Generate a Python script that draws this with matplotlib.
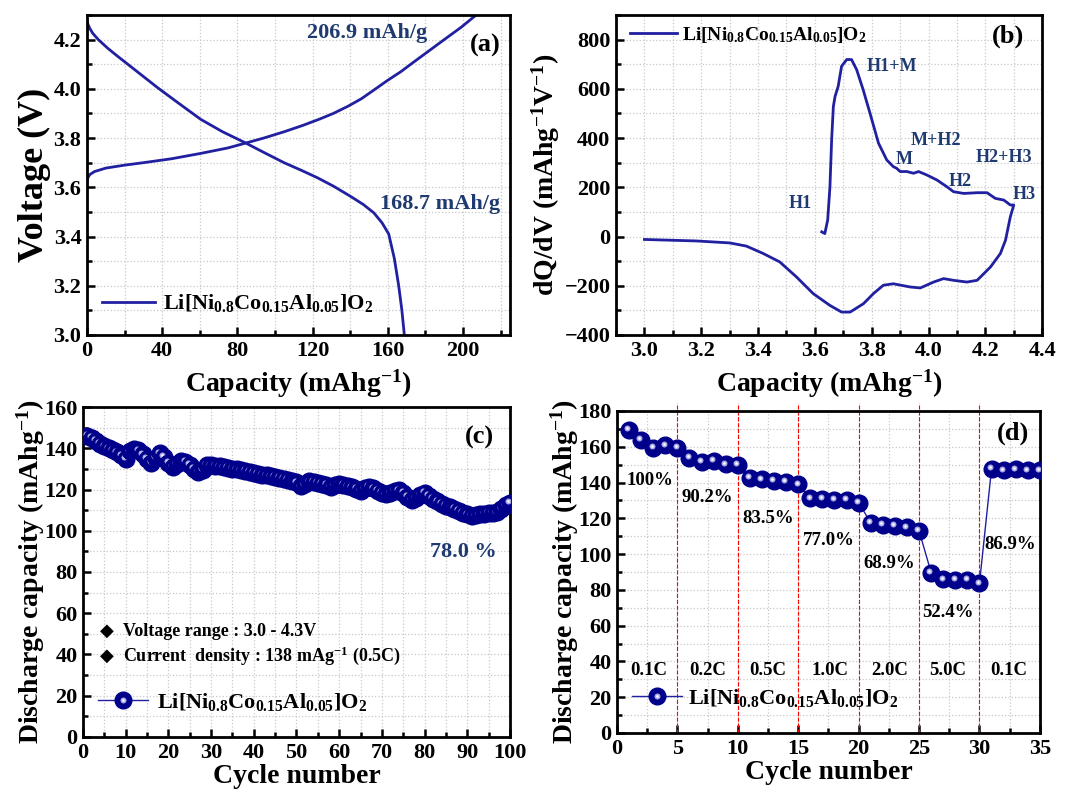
import matplotlib
matplotlib.use("Agg")
import matplotlib.pyplot as plt
from matplotlib.lines import Line2D
from matplotlib.ticker import MultipleLocator
from matplotlib.transforms import offset_copy

plt.rcParams['font.family'] = ['Liberation Serif', 'DejaVu Sans']
plt.rcParams['font.weight'] = 'bold'
plt.rcParams['axes.labelweight'] = 'bold'
plt.rcParams['mathtext.fontset'] = 'custom'
plt.rcParams['mathtext.rm'] = 'Liberation Serif:bold'
plt.rcParams['mathtext.bf'] = 'Liberation Serif:bold'
plt.rcParams['mathtext.it'] = 'Liberation Serif:bold:italic'

NCA = r'Li[Ni$_{0.8}$Co$_{0.15}$Al$_{0.05}$]O$_{2}$'

# (a) charge / discharge profiles
cap_chg = [0, 0.5, 1.5, 4, 10, 20, 30, 45, 60, 75, 85, 94, 105, 115, 124, 131, 139,
           146, 153.5, 160, 167, 174, 182, 190, 199, 207]
v_chg = [3.62, 3.64, 3.652, 3.664, 3.678, 3.69, 3.70, 3.716, 3.737, 3.76, 3.781,
         3.80, 3.826, 3.852, 3.878, 3.90, 3.93, 3.96, 4.0, 4.035, 4.07, 4.11, 4.155,
         4.20, 4.25, 4.30]
cap_dis = [0, 0.5, 1.5, 3, 6, 11, 16, 25, 37.5, 49, 60.5, 72, 84.4, 95, 104.8, 114,
           122.5, 131, 140, 147, 152.6, 157, 160.5, 163.5, 165.8, 167.5, 168.8]
v_dis = [4.277, 4.262, 4.245, 4.226, 4.2, 4.165, 4.134, 4.08, 4.005, 3.94, 3.876,
         3.826, 3.78, 3.738, 3.70, 3.669, 3.639, 3.605, 3.564, 3.53, 3.496, 3.455,
         3.41, 3.31, 3.2, 3.1, 3.0]

# (b) dQ/dV
v_b = [3.624, 3.635, 3.645, 3.653, 3.659, 3.665, 3.671, 3.682, 3.694, 3.712, 3.729,
       3.747, 3.770, 3.794, 3.824, 3.853, 3.876, 3.888, 3.900, 3.924, 3.947, 3.965,
       3.994, 4.029, 4.065, 4.088, 4.124, 4.171, 4.206, 4.235, 4.265, 4.288, 4.300,
       4.288, 4.271, 4.253, 4.218, 4.171, 4.135, 4.088, 4.053, 4.018, 3.971, 3.935,
       3.876, 3.841, 3.806, 3.771, 3.724, 3.694, 3.653, 3.594, 3.535, 3.476, 3.418,
       3.359, 3.300, 3.182, 3.000]
dqdv_b = [19, 12, 67, 202, 393, 528, 569, 610, 692, 719, 719, 678, 596, 501, 379, 311,
          284, 277, 264, 264, 257, 264, 250, 230, 202, 182, 175, 178, 178, 155, 148,
          128, 128, 80, -15, -69, -124, -178, -185, -178, -171, -185, -209, -205,
          -192, -198, -232, -273, -307, -307, -280, -232, -164, -103, -69, -39, -26,
          -18, -12]
b_labels = ['H1', 'H1+M', 'M', 'M+H2', 'H2', 'H2+H3', 'H3']
b_label_x = [3.547, 3.87, 3.913, 4.026, 4.111, 4.266, 4.337]
b_label_y = [133, 691, 314, 389, 222, 323, 170]

# (c) cycling at 0.5C
cycles_c = list(range(1, 101))
cap_c = [146, 145, 143.5, 142, 141, 140, 139, 138, 136.5, 135,
         138.5, 139.5, 139, 137, 135, 133, 135.5, 137.5, 136, 133,
         131, 132.5, 134, 133.5, 132, 130, 128.5, 129.5, 132, 131.8,
         131.5, 131.2, 130.8, 130.5, 130.1, 129.7, 129.3, 128.9, 128.5, 128,
         127.6, 127.2, 126.8, 126.4, 126, 125.6, 125.2, 124.8, 124.3, 123.5,
         121.5, 122.5, 124, 123.7, 123.3, 122.8, 122.2, 121.2, 122, 122.6,
         122.2, 121.6, 121, 120.2, 119.4, 120.5, 121.2, 120.5, 119.5, 118.5,
         117.7, 118.5, 119.5, 119.6, 118.5, 116.5, 115, 116, 117.5, 118.3,
         117, 115.5, 114.3, 113.2, 112.2, 111.3, 110.5, 109.6, 108.8, 108,
         107.3, 107.5, 108, 108.3, 108.7, 108.8, 109, 110.5, 112.3, 113.6]

# (d) rate capability
cycles_d = list(range(1, 36))
cap_d = [169.6, 164, 159.5, 160.8, 159.5, 153.8, 151.5, 152, 150.2, 149.7,
         142.6, 141.7, 141, 140.4, 138.9, 131.1, 130.7, 130.5, 130.2, 128.7,
         117.5, 116.2, 115.7, 114.9, 113, 89.6, 85.9, 85.5, 85.5, 83.7,
         147.8, 146.9, 147.3, 146.9, 146.9]
rate_bounds = [5, 10, 15, 20, 25, 30]
rates = ['0.1C', '0.2C', '0.5C', '1.0C', '2.0C', '5.0C', '0.1C']
rate_x = [2.6, 7.5, 12.5, 17.6, 22.6, 27.4, 32.4]
retention = ['100%', '90.2%', '83.5%', '77.0%', '68.9%', '52.4%', '86.9%']
ret_x = [2.7, 7.5, 12.5, 17.5, 22.5, 27.4, 32.5]
ret_y = [141, 131.5, 120, 107.5, 94.5, 67.3, 105.6]

LINE = '#2020a0'
NAVY = '#00008b'
HILITE = '#a9a9e6'
ANNO = '#1e3a70'
MS = 12

fig = plt.figure(figsize=(10.68, 7.9), dpi=100)


def style(ax, xmaj, xmin, ymaj, ymin):
    ax.xaxis.set_major_locator(MultipleLocator(xmaj))
    ax.xaxis.set_minor_locator(MultipleLocator(xmin))
    ax.yaxis.set_major_locator(MultipleLocator(ymaj))
    ax.yaxis.set_minor_locator(MultipleLocator(ymin))
    ax.grid(True, which='both', ls=':', color='#c8c8c8', lw=0.9)
    ax.set_axisbelow(True)
    ax.tick_params(which='both', direction='in', width=1.8, labelsize=16,
                   top=False, right=False, pad=4)
    ax.tick_params(which='major', length=6)
    ax.tick_params(which='minor', length=3.5)
    for s in ax.spines.values():
        s.set_linewidth(2)


def spheres(ax, x, y, ms=MS):
    hl = offset_copy(ax.transData, fig=fig, x=-1.2, y=1.2, units='points')
    ax.plot(x, y, '-', color=LINE, lw=1, zorder=2)
    for xi, yi in zip(x, y):
        ax.plot(xi, yi, 'o', ms=ms, mfc=NAVY, mec=NAVY, zorder=3)
        ax.plot(xi, yi, 'o', ms=ms * 0.36, mfc=HILITE, mec='none', zorder=3,
                transform=hl)
        ax.plot(xi, yi, 'o', ms=ms * 0.16, mfc='white', mec='none', zorder=3,
                transform=hl)


def sphere_handle(ms=MS):
    h1 = Line2D([], [], color=LINE, lw=1, marker='o', ms=ms, mfc=NAVY, mec=NAVY)
    h2 = Line2D([], [], ls='none', marker='o', ms=ms * 0.36, mfc=HILITE, mec='none')
    h3 = Line2D([], [], ls='none', marker='o', ms=ms * 0.16, mfc='white', mec='none')
    return (h1, h2, h3)


# ---- (a) ----
ax = fig.add_axes([0.0815, 0.576, 0.396, 0.405])
ax.plot(cap_chg, v_chg, color=LINE, lw=2, label=NCA)
ax.plot(cap_dis, v_dis, color=LINE, lw=2)
ax.set_xlim(0, 225)
ax.set_ylim(3.0, 4.3)
style(ax, 40, 20, 0.2, 0.1)
ax.yaxis.set_major_formatter(plt.FormatStrFormatter('%.1f'))
ax.set_xlabel(r'Capacity (mAhg$^{-1}$)', fontsize=20, labelpad=5)
ax.set_ylabel('Voltage (V)', fontsize=26, labelpad=2)
ax.text(148.8, 4.226, '206.9 mAh/g', color=ANNO, fontsize=16, ha='center', va='center')
ax.text(188, 3.534, '168.7 mAh/g', color=ANNO, fontsize=16, ha='center', va='center')
ax.text(211.7, 4.178, '(a)', fontsize=19, ha='center', va='center')
ax.legend(loc='center left', bbox_to_anchor=(0.035, 0.099), frameon=False,
          fontsize=16, handlelength=2.4, handletextpad=0.35, borderpad=0,
          borderaxespad=0)

# ---- (b) ----
ax = fig.add_axes([0.5768, 0.576, 0.399, 0.405])
ax.plot(v_b, dqdv_b, color=LINE, lw=2, label=NCA)
ax.set_xlim(2.9, 4.4)
ax.set_ylim(-400, 900)
style(ax, 0.2, 0.1, 200, 100)
ax.xaxis.set_major_formatter(plt.FormatStrFormatter('%.1f'))
ax.set_xlabel(r'Capacity (mAhg$^{-1}$)', fontsize=20, labelpad=5)
ax.set_ylabel(r'dQ/dV (mAhg$^{-1}$V$^{-1}$)', fontsize=20, labelpad=2)
for lab, lx, ly in zip(b_labels, b_label_x, b_label_y):
    ax.text(lx, ly, lab, color=ANNO, fontsize=13, ha='center', va='center')
ax.text(4.281, 813, '(b)', fontsize=19, ha='center', va='center')
ax.legend(loc='center left', bbox_to_anchor=(0.033, 0.9375), frameon=False,
          fontsize=14, handlelength=2.4, handletextpad=0.26, borderpad=0,
          borderaxespad=0)

# ---- (c) ----
ax = fig.add_axes([0.0777, 0.0671, 0.3998, 0.4177])
spheres(ax, cycles_c, cap_c)
ax.set_xlim(0, 100)
ax.set_ylim(0, 160)
style(ax, 10, 5, 20, 10)
ax.set_xlabel('Cycle number', fontsize=20, labelpad=1)
ax.set_ylabel(r'Discharge capacity (mAhg$^{-1}$)', fontsize=20, labelpad=-2)
ax.text(92.9, 145, '(c)', fontsize=19, ha='center', va='center')
ax.text(89, 89.8, '78.0 %', color=ANNO, fontsize=16, ha='center', va='center')
ax.text(4.0, 51.3, '\u25c6', fontsize=13, ha='left', va='center')
ax.text(9.3, 51.3, 'Voltage range : 3.0 - 4.3V', fontsize=13, ha='left', va='center')
ax.text(4.0, 39.2, '\u25c6', fontsize=13, ha='left', va='center')
ax.text(9.3, 39.2, r'Current  density : 138 mAg$^{-1}$ (0.5C)', fontsize=13,
        ha='left', va='center')
ax.legend([sphere_handle()], [NCA], loc='center left', bbox_to_anchor=(0.035, 0.107),
          frameon=False, fontsize=16, handlelength=2.25, handletextpad=0.39,
          borderpad=0, borderaxespad=0, numpoints=1)

# ---- (d) ----
ax = fig.add_axes([0.5777, 0.0722, 0.396, 0.4076])
for xb in rate_bounds:
    ax.axvline(xb, ymin=0, ymax=1.025, clip_on=False, color='red', ls='--', lw=0.8,
               zorder=1)
spheres(ax, cycles_d, cap_d)
ax.set_xlim(0, 35)
ax.set_ylim(0, 180)
style(ax, 5, 2.5, 20, 10)
ax.set_xlabel('Cycle number', fontsize=20, labelpad=1)
ax.set_ylabel(r'Discharge capacity (mAhg$^{-1}$)', fontsize=20, labelpad=-2)
for lab, lx in zip(rates, rate_x):
    ax.text(lx, 34.7, lab, fontsize=13.5, ha='center', va='center')
for lab, lx, ly in zip(retention, ret_x, ret_y):
    ax.text(lx, ly, lab, fontsize=13.5, ha='center', va='center')
ax.text(32.75, 167.7, '(d)', fontsize=19, ha='center', va='center')
ax.legend([sphere_handle()], [NCA], loc='center left', bbox_to_anchor=(0.035, 0.109),
          frameon=False, fontsize=16, handlelength=2.25, handletextpad=0.28,
          borderpad=0, borderaxespad=0, numpoints=1)

fig.savefig('out.png', dpi=100)
